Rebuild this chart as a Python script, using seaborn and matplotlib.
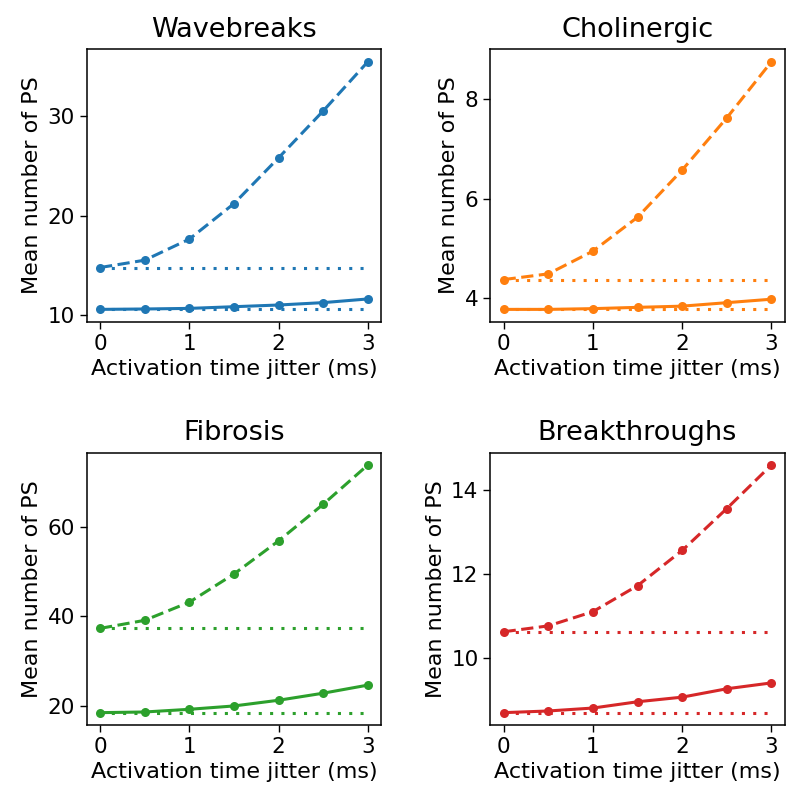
import numpy as np
import pandas as pd
import matplotlib
matplotlib.use("Agg")
import matplotlib.pyplot as plt
from matplotlib.ticker import MultipleLocator
import seaborn as sns

sns.set_style("ticks")
plt.rcParams["font.family"] = ["DejaVu Sans"]
plt.rcParams["text.color"] = "black"
plt.rcParams["axes.labelcolor"] = "black"
plt.rcParams["xtick.color"] = "black"
plt.rcParams["ytick.color"] = "black"

jitter = [0, 0.5, 1, 1.5, 2, 2.5, 3]

titles = ["Wavebreaks", "Cholinergic", "Fibrosis", "Breakthroughs"]
colors = ["tab:blue", "tab:orange", "tab:green", "tab:red"]
ytick_step = [10, 2, 20, 2]

# dashed series (upper curve)
wavebreaks_dashed = [14.78, 15.52, 17.64, 21.21, 25.82, 30.54, 35.49]
cholinergic_dashed = [4.375, 4.49, 4.947, 5.63, 6.58, 7.63, 8.76]
fibrosis_dashed = [37.29, 39.1, 43.16, 49.47, 56.9, 65.1, 73.9]
breakthroughs_dashed = [10.62, 10.76, 11.10, 11.72, 12.56, 13.56, 14.60]

# solid series (lower curve)
wavebreaks_solid = [10.57, 10.61, 10.67, 10.84, 11.01, 11.25, 11.62]
cholinergic_solid = [3.775, 3.775, 3.79, 3.816, 3.84, 3.91, 3.98]
fibrosis_solid = [18.42, 18.57, 19.17, 19.92, 21.2, 22.78, 24.59]
breakthroughs_solid = [8.69, 8.73, 8.80, 8.95, 9.06, 9.26, 9.40]

dashed = [wavebreaks_dashed, cholinergic_dashed, fibrosis_dashed, breakthroughs_dashed]
solid = [wavebreaks_solid, cholinergic_solid, fibrosis_solid, breakthroughs_solid]

fig, axes = plt.subplots(2, 2, figsize=(7.88, 7.95), dpi=100)
fig.subplots_adjust(left=0.110, right=0.996, top=0.938, bottom=0.088,
                    wspace=0.37, hspace=0.48)

lw = 2.2
for ax, title, color, dash, sol, step in zip(axes.flat, titles, colors,
                                             dashed, solid, ytick_step):
    df = pd.DataFrame({"jitter": jitter, "dashed": dash, "solid": sol})
    base = pd.DataFrame({"jitter": [jitter[0], jitter[-1]],
                         "top": [dash[0], dash[0]],
                         "bottom": [sol[0], sol[0]]})
    for col in ["top", "bottom"]:
        sns.lineplot(data=base, x="jitter", y=col, ax=ax, color=color,
                     linewidth=lw, dashes=False, linestyle=(0, (1, 2.7)))
    sns.lineplot(data=df, x="jitter", y="dashed", ax=ax, color=color,
                 linewidth=lw, linestyle=(0, (4.0, 1.8)), marker="o",
                 markersize=6.5, markeredgewidth=0)
    sns.lineplot(data=df, x="jitter", y="solid", ax=ax, color=color,
                 linewidth=lw, marker="o", markersize=6.5, markeredgewidth=0)
    ax.set_title(title, fontsize=19.5, pad=9)
    ax.set_xlabel("Activation time jitter (ms)", fontsize=16)
    ax.set_ylabel("Mean number of PS", fontsize=16)
    ax.set_xticks([0, 1, 2, 3])
    ax.yaxis.set_major_locator(MultipleLocator(step))
    ax.tick_params(labelsize=15.5, width=1, length=5)
    for s in ax.spines.values():
        s.set_linewidth(1.1)
        s.set_color("black")

plt.savefig("out.png", dpi=100)
